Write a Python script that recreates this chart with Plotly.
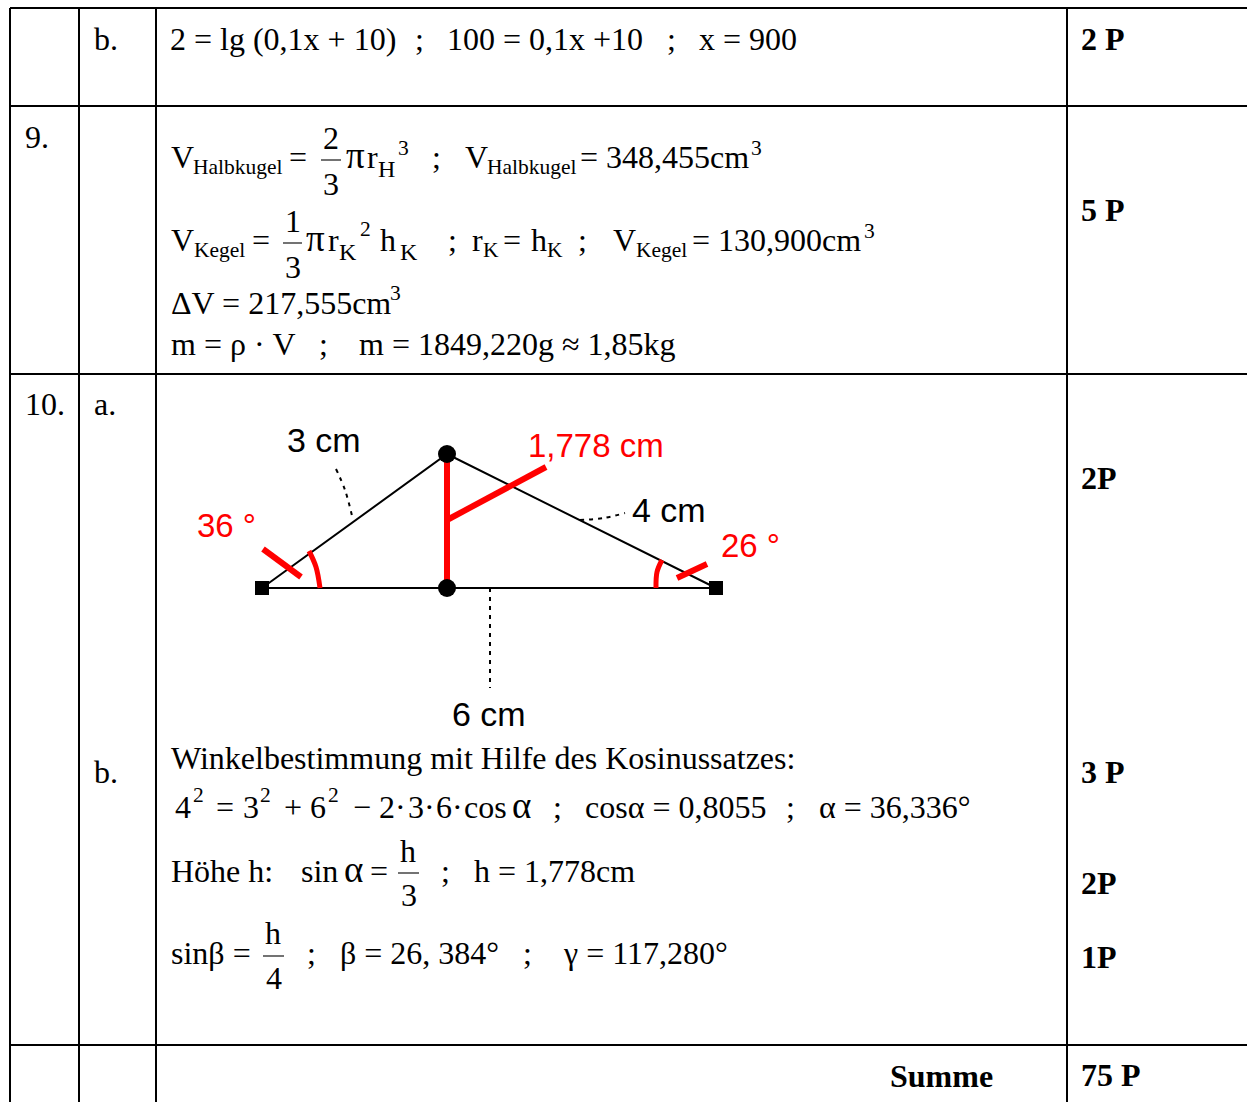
import plotly.graph_objects as go

# table rules
col_x = [10, 79, 156, 1067]
row_y = [8, 106, 374, 1045]
page_w = 1247
page_h = 1102

# triangle sketch
triangle_x = [262, 447, 716, 262]
triangle_y = [588, 454, 588, 588]
square_x = [262, 716]
square_y = [588, 588]
dot_x = [447, 447]
dot_y = [454, 588]

height_x = [447, 447, None, 447, 546]
height_y = [454, 588, None, 520, 467]
tick_x = [263, 301, None, 677, 707]
tick_y = [549, 577, None, 578, 564]
arc_left_x = [309, 316, 320]
arc_left_y = [551, 567, 588]
arc_right_x = [662, 657, 656]
arc_right_y = [560, 572, 588]

leader_3_x = [336, 345, 353]
leader_3_y = [469, 490, 520]
leader_4_x = [580, 604, 625]
leader_4_y = [520, 518, 513]
leader_6_x = [490, 490]
leader_6_y = [588, 688]

# fraction bars: x0, x1, y
fractions = [(321, 341, 160), (283, 302, 243), (398, 419, 873), (263, 284, 956)]

# x, baseline, text
serif_big = [
    (94, 50, "b."), (170, 50, "2 = lg (0,1x + 10)"), (415, 50, ";"), (447, 50, "100 = 0,1x +10"),
    (667, 50, ";"), (699, 50, "x = 900"),
    (25, 148, "9."), (171, 168, "V"), (289, 168, "="), (323, 149, "2"), (323, 195, "3"),
    (367, 168, "r"), (432, 168, ";"), (465, 168, "V"), (580, 168, "= 348,455cm"),
    (171, 251, "V"), (252, 251, "="), (285, 232, "1"), (285, 278, "3"),
    (328, 251, "r"), (380, 251, "h"), (448, 251, ";"), (472, 251, "r"), (503, 251, "="),
    (531, 251, "h"), (578, 251, ";"), (613, 251, "V"), (692, 251, "= 130,900cm"),
    (171, 314, "ΔV = 217,555cm"), (171, 355, "m = ρ · V"), (319, 355, ";"),
    (359, 355, "m = 1849,220g ≈ 1,85kg"),
    (25, 415, "10."), (94, 415, "a."), (94, 783, "b."),
    (171, 769, "Winkelbestimmung mit Hilfe des Kosinussatzes:"),
    (175, 818, "4"), (216, 818, "="), (243, 818, "3"), (284, 818, "+"), (310, 818, "6"),
    (353, 818, "−"), (379, 818, "2·"), (408, 818, "3·"), (436, 818, "6·"), (464, 818, "cos"),
    (553, 818, ";"), (585, 818, "cosα = 0,8055"), (786, 818, ";"), (819, 818, "α = 36,336°"),
    (171, 882, "Höhe h:"), (301, 882, "sin"), (370, 882, "="), (400, 862, "h"), (401, 906, "3"),
    (441, 882, ";"), (474, 882, "h = 1,778cm"),
    (171, 964, "sinβ ="), (265, 944, "h"), (266, 989, "4"), (307, 964, ";"),
    (340, 964, "β = 26, 384°"), (523, 964, ";"), (563, 964, "γ = 117,280°"),
]
serif_symbol = [(346, 168, "π"), (306, 251, "π"), (512, 818, "α"), (344, 882, "α")]
serif_sub = [
    (193, 174, "Halbkugel"), (487, 174, "Halbkugel"), (194, 257, "Kegel"), (636, 257, "Kegel"),
    (483, 257, "K"), (547, 257, "K"),
    (398, 155, "3"), (751, 155, "3"), (360, 236, "2"), (864, 238, "3"), (390, 300, "3"),
    (193, 802, "2"), (260, 802, "2"), (328, 802, "2"),
]
serif_sub_big = [(378, 177, "H"), (339, 260, "K"), (400, 260, "K")]
points_bold = [
    (1081, 50, "2 P"), (1081, 221, "5 P"), (1081, 489, "2P"), (1081, 783, "3 P"), (1081, 894, "2P"),
    (1081, 968, "1P"), (890, 1087, "Summe"), (1081, 1086, "75 P"),
]
labels_black = [(287, 451, "3 cm"), (632, 521, "4 cm"), (452, 725, "6 cm")]
labels_red = [(197, 537, "36 °"), (528, 457, "1,778 cm"), (721, 557, "26 °")]

SERIF = "Liberation Serif"
SANS = "Liberation Sans"


def add_line(fig, x, y, color="black", width=2, dash="solid", shape="linear"):
    fig.add_trace(go.Scatter(x=x, y=y, mode="lines", hoverinfo="skip",
                             line=dict(color=color, width=width, dash=dash, shape=shape)))


def add_texts(fig, items, family, size, color="black", bold=False):
    for x, base, s in items:
        fig.add_annotation(x=x, y=base - 0.337 * size, text=f"<b>{s}</b>" if bold else s, showarrow=False,
                           xanchor="left", yanchor="middle", borderpad=0, borderwidth=0,
                           font=dict(family=family, size=size, color=color))


fig = go.Figure()

for x in col_x:
    add_line(fig, [x, x], [row_y[0], page_h])
for y in row_y:
    add_line(fig, [col_x[0], page_w], [y, y])

for x0, x1, y in fractions:
    add_line(fig, [x0, x1], [y, y], color="#444444", width=1.5)

add_line(fig, triangle_x, triangle_y)
add_line(fig, leader_3_x, leader_3_y, width=2, dash="4px,5px", shape="spline")
add_line(fig, leader_4_x, leader_4_y, width=2, dash="4px,5px", shape="spline")
add_line(fig, leader_6_x, leader_6_y, width=2, dash="4px,5px")

add_line(fig, height_x, height_y, color="#ff0000", width=6)
add_line(fig, tick_x, tick_y, color="#ff0000", width=6)
add_line(fig, arc_left_x, arc_left_y, color="#ff0000", width=5, shape="spline")
add_line(fig, arc_right_x, arc_right_y, color="#ff0000", width=5, shape="spline")

fig.add_trace(go.Scatter(x=square_x, y=square_y, mode="markers", hoverinfo="skip",
                         marker=dict(symbol="square", size=14, color="black")))
fig.add_trace(go.Scatter(x=dot_x, y=dot_y, mode="markers", hoverinfo="skip",
                         marker=dict(symbol="circle", size=18, color="black")))

add_texts(fig, serif_big, SERIF, 32)
add_texts(fig, serif_symbol, SERIF, 37)
add_texts(fig, serif_sub, SERIF, 21.5)
add_texts(fig, serif_sub_big, SERIF, 24)
add_texts(fig, points_bold, SERIF, 32, bold=True)
add_texts(fig, labels_black, SANS, 34)
add_texts(fig, labels_red, SANS, 33, color="#ff0000")

fig.update_layout(
    width=page_w, height=page_h, autosize=False, showlegend=False,
    margin=dict(l=0, r=0, t=0, b=0),
    paper_bgcolor="white", plot_bgcolor="white",
    xaxis=dict(range=[0, page_w], visible=False, fixedrange=True),
    yaxis=dict(range=[page_h, 0], visible=False, fixedrange=True),
)
# page default margin would push the figure 8px in
fig.write_html("out.html", config=dict(displayModeBar=False), post_script="document.body.style.margin='0';")
